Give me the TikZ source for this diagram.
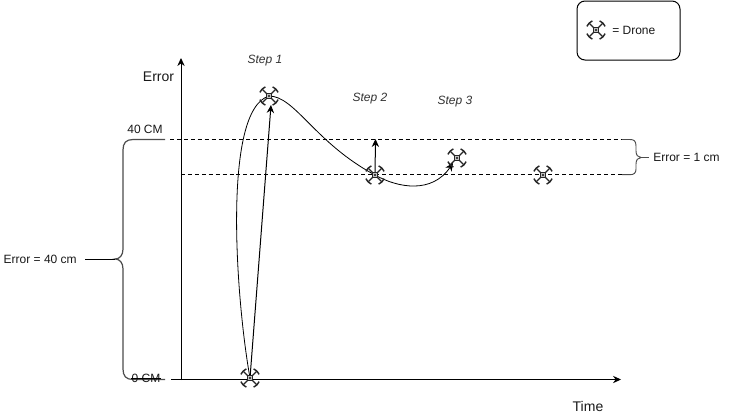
\documentclass[tikz,border=0pt]{standalone}
\usepackage{fontspec}
\setmainfont{Liberation Sans}
\usetikzlibrary{arrows.meta}
\tikzset{
  lbl/.style={inner sep=0pt,font=\fontsize{9pt}{10pt}\selectfont,text=black!90},
  steplbl/.style={inner sep=0pt,font=\fontsize{9pt}{10pt}\selectfont\itshape,text=black!80},
  axislbl/.style={inner sep=0pt,font=\fontsize{10.5pt}{12pt}\selectfont,text=black!90},
  curve/.style={line width=0.6pt,black},
  guide/.style={line width=0.6pt,dash pattern=on 3pt off 2.2pt},
  brace/.style={line width=0.7pt,black!70},
  tip/.style={-{Stealth[length=6pt,width=5.5pt]}},
  pics/drone/.style={code={
    \draw[line width=0.9pt,black!85] (-6.5,-6.5) -- (6.5,6.5) (-6.5,6.5) -- (6.5,-6.5);
    \fill[black!85] (-3.2,-3.2) rectangle (3.2,3.2);
    \fill[black!25] (-2.3,-2.3) rectangle (2.3,2.3);
    \fill[black!75] (-1.3,-1.3) rectangle (1.3,1.3);
    \foreach \a in {45,135,225,315}{
      \begin{scope}[rotate=\a]
        \draw[line width=1.05pt,black!85] (9,-3.9) .. controls (10,-1.5) and (10,1.5) .. (9,3.9);
      \end{scope}}
  }}
}
\begin{document}
\begin{tikzpicture}[x=0.75pt,y=-0.75pt]
\useasboundingbox (0,0) rectangle (742,418);
\fill[white] (0,0) rectangle (742,418);
% anchors
\coordinate (origin) at (181,380);
\coordinate (yend) at (181,58);
\coordinate (xstart) at (171,379.5);
\coordinate (xend) at (621,379.5);
\coordinate (d0) at (250,378);
\coordinate (d1) at (269,96);
\coordinate (d2) at (375,175);
\coordinate (d3) at (457,158);
\coordinate (d4) at (543,175);
\coordinate (a1) at (271,105);
\coordinate (a2) at (375.5,139);
\coordinate (a3) at (453,163);
% guide lines
\coordinate (g1a) at (170,139.5); \coordinate (g1b) at (622,139.5);
\coordinate (g2a) at (181,174.7); \coordinate (g2b) at (622,174.7);
\draw[guide] (g1a) -- (g1b);
\draw[guide] (g2a) -- (g2b);
% axes
\draw[line width=0.75pt,tip] (origin) -- (yend);
\draw[line width=0.75pt,tip] (xstart) -- (xend);
% curves
\draw[curve] (d0) .. controls (236,300) and (222,110) .. (d1);
\draw[curve] (d1) .. controls (295,96) and (315,143) .. (d2);
\draw[curve,tip] (d2) .. controls (398,188) and (432,194) .. (a3);
\draw[line width=0.75pt,tip] (d0) -- (a1);
\draw[line width=0.75pt,tip] (d2) -- (a2);
% braces
\coordinate (lb1) at (165,139.5);
\coordinate (lb2) at (165,379.5);
\coordinate (lbt) at (115,259);
\draw[brace,line width=0.9pt] (lb1) -- (133,139.5) .. controls (126,139.5) and (123,143) .. (123,150) -- (123,249)
  .. controls (123,255) and (120,259) .. (lbt) .. controls (120,259) and (123,263) .. (123,269) -- (123,369)
  .. controls (123,376) and (126,379.5) .. (133,379.5) -- (lb2);
\coordinate (rb1) at (622,139.5);
\coordinate (rb2) at (622,174.7);
\coordinate (rbt) at (641,157.5);
\coordinate (rbl) at (649,157.5);
\draw[brace] (rb1) -- (630,139.5) .. controls (634,139.5) and (636,141) .. (636,146) -- (636,151)
  .. controls (636,155) and (638,157.5) .. (rbt) .. controls (638,157.5) and (636,160) .. (636,164) -- (636,169)
  .. controls (636,173) and (634,174.7) .. (630,174.7) -- (rb2);
% labels
\node[lbl,anchor=east] (e40) at (77,259) {Error = 40 cm};
\node[lbl,anchor=west] (e1) at (653,157) {Error = 1 cm};
\coordinate (e40l) at (85,259);
\draw[line width=0.75pt] (e40l) -- (lbt);
\draw[line width=0.75pt,black!70] (rbt) -- (rbl);
\node[lbl] (c40) at (145,129.5) {40 CM};
\node[lbl] (c0) at (146,378.5) {0 CM};
\draw[line width=0.6pt,black] (c0.west) -- (c0.east);
\node[axislbl] (err) at (158.5,76.5) {Error};
\node[axislbl] (time) at (588,406) {Time};
\node[steplbl] (s1) at (265,60.5) {Step 1};
\node[steplbl] (s2) at (370,99) {Step 2};
\node[steplbl] (s3) at (455,101.5) {Step 3};
% drones
\foreach \p in {d0,d1,d2,d3,d4}{\pic at (\p) {drone};}
% legend
\node[draw,line width=0.75pt,rounded corners=6pt,minimum width=77.25pt,minimum height=44.25pt,inner sep=0pt] (legend) at (628.5,30.5) {};
\coordinate (ld) at (596,30);
\pic at (ld) {drone};
\node[lbl,anchor=west] (ltext) at (612,30) {= Drone};
\end{tikzpicture}
\end{document}
